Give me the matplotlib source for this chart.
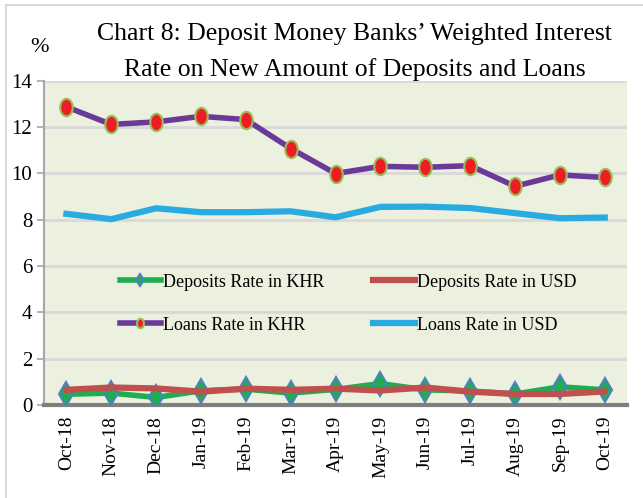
import matplotlib
matplotlib.use("Agg")
import matplotlib.pyplot as plt
from matplotlib.markers import MarkerStyle
from matplotlib.transforms import Affine2D
from matplotlib.lines import Line2D

plt.rcParams['font.family'] = ['Liberation Serif', 'DejaVu Serif']

months = ['Oct-18', 'Nov-18', 'Dec-18', 'Jan-19', 'Feb-19', 'Mar-19', 'Apr-19',
          'May-19', 'Jun-19', 'Jul-19', 'Aug-19', 'Sep-19', 'Oct-19']
dep_khr = [0.46, 0.51, 0.32, 0.61, 0.68, 0.51, 0.67, 0.92, 0.65, 0.60, 0.47, 0.78, 0.65]
dep_usd = [0.65, 0.75, 0.71, 0.57, 0.70, 0.65, 0.70, 0.62, 0.75, 0.57, 0.47, 0.47, 0.58]
loan_khr = [12.87, 12.11, 12.22, 12.46, 12.32, 11.07, 9.99, 10.30, 10.26, 10.33, 9.44, 9.93, 9.82]
loan_usd = [8.25, 8.02, 8.49, 8.32, 8.32, 8.36, 8.10, 8.55, 8.56, 8.50, 8.28, 8.06, 8.09]

x = list(range(len(months)))

fig = plt.figure(figsize=(6.43, 4.98), dpi=100)
ax = fig.add_axes([0.0684, 0.187, 0.907, 0.651])
ax.set_facecolor('#EBF1DE')

ellipse = MarkerStyle('o', transform=Affine2D().scale(0.72, 1.0))

l1, = ax.plot(x, dep_khr, color='#1DAE4F', lw=4, marker='d', ms=12,
              mfc='#1DAE4F', mec='#4F81BD', mew=1.5, zorder=3)
l2, = ax.plot(x, dep_usd, color='#C0504D', lw=4.5, zorder=4)
l3, = ax.plot(x, loan_khr, color='#6B3A98', lw=4, marker=ellipse, ms=12.5,
              mfc='#EE1C25', mec='#9BBB59', mew=1.5, zorder=3)
l4, = ax.plot(x, loan_usd, color='#29ABE2', lw=4.5, zorder=3)

ax.set_xlim(-0.5, len(months) - 0.5)
ax.set_ylim(0, 14)
ax.set_yticks(range(0, 15, 2))
ax.set_xticks(x)
ax.set_xticklabels(months, rotation=90, fontsize=14)
ax.tick_params(axis='y', labelsize=15, length=5, color='#A6A6A6', width=1.2)
ax.tick_params(axis='x', length=0, pad=8)
ax.grid(axis='y', color='#D9D9D9', lw=2)
ax.set_axisbelow(True)

for s in ['top', 'right']:
    ax.spines[s].set_visible(False)
ax.spines['left'].set_color('#A6A6A6')
ax.spines['left'].set_linewidth(1.5)
ax.spines['bottom'].set_color('#7F7F7F')
ax.spines['bottom'].set_linewidth(3)

ax.legend([l1, l3, l2, l4],
          ['Deposits Rate in KHR', 'Loans Rate in KHR',
           'Deposits Rate in USD', 'Loans Rate in USD'],
          ncol=2, frameon=False, fontsize=13, loc='upper left',
          bbox_to_anchor=(0.102, 0.455), handlelength=2.3, handletextpad=0.1,
          labelspacing=1.45, columnspacing=2.7, markerscale=0.55)

fig.text(0.552, 0.931, 'Chart 8: Deposit Money Banks\u2019 Weighted Interest',
         ha='center', va='center', fontsize=18.5)
fig.text(0.552, 0.861, 'Rate on New Amount of Deposits and Loans',
         ha='center', va='center', fontsize=18.5)
fig.text(0.062, 0.905, '%', ha='center', va='center', fontsize=16)

fig.add_artist(Line2D([0.009, 0.009], [0, 0.99], color='#D9D9D9', lw=1.5,
                      transform=fig.transFigure))
fig.add_artist(Line2D([0.009, 1], [0.99, 0.99], color='#D9D9D9', lw=1.5,
                      transform=fig.transFigure))

fig.savefig('out.png', dpi=100)
